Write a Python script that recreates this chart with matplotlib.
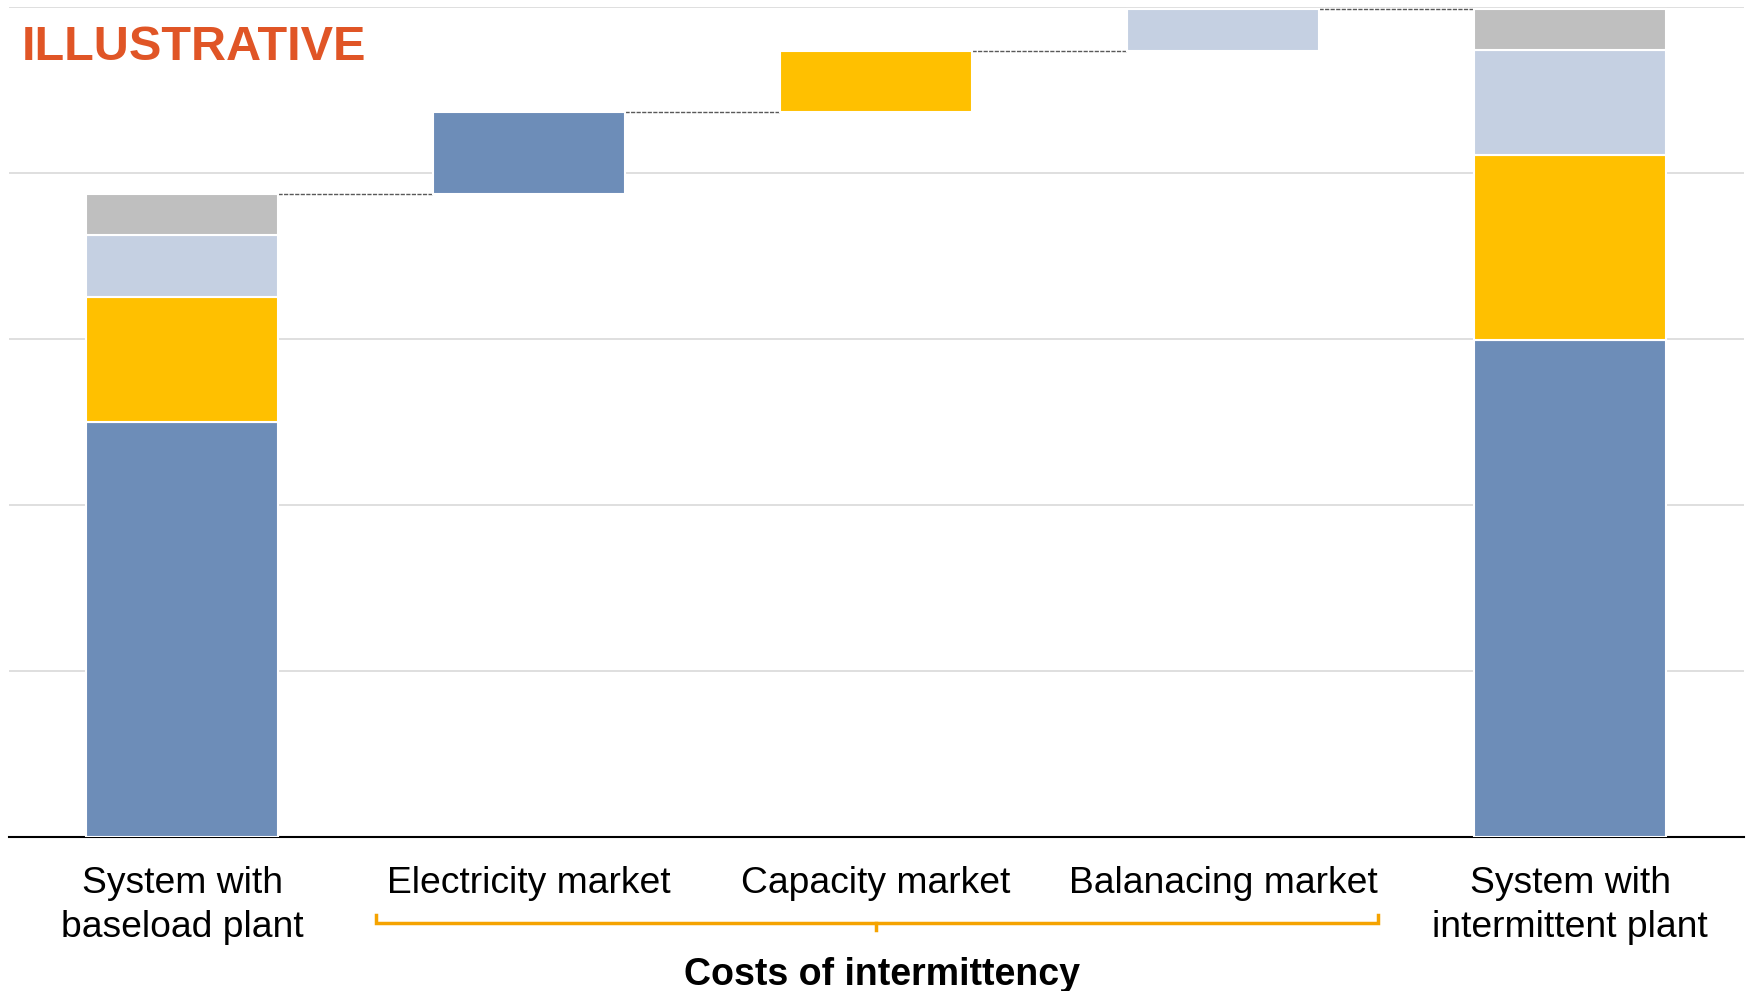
import numpy as np
import matplotlib.pyplot as plt
from matplotlib import transforms

plt.rcParams['font.family'] = ['Liberation Sans', 'DejaVu Sans']

# cost components, bottom to top
components = ["Generation", "Capacity", "Balancing", "Other"]
colors = ["#6D8DB8", "#FFC000", "#C5D0E2", "#BFBFBF"]

labels = ["System with\nbaseload plant", "Electricity market", "Capacity market",
          "Balanacing market", "System with\nintermittent plant"]

baseload = [50, 15, 7.5, 5]
steps = [9.9, 7.3, 5.1]          # electricity, capacity, balancing
intermittent = [59.9, 22.3, 12.6, 5.0]

width = 0.553
fig = plt.figure(figsize=(17.48, 9.91), dpi=100)
ax = fig.add_axes([0.005, 0.1554, 0.9925, 0.8376])

# stacked end bars
for xpos, stack in [(0, baseload), (4, intermittent)]:
    bottom = 0
    for val, col in zip(stack, colors):
        ax.bar(xpos, val, width, bottom=bottom, color=col, edgecolor="white",
               linewidth=1.5, zorder=3)
        bottom += val

# floating step bars
level = sum(baseload)
levels = [level]
for i, val in enumerate(steps):
    ax.bar(i + 1, val, width, bottom=level, color=colors[i], edgecolor="white",
           linewidth=1.5, zorder=3)
    level += val
    levels.append(level)

# dashed connectors between bars
for i, lv in enumerate(levels):
    ax.plot([i + width / 2, i + 1 - width / 2], [lv, lv], ls="--", dashes=(3, 1),
            color="#595959", lw=1.0, zorder=2)

ax.set_xlim(-0.5, 4.5)
ax.set_ylim(0, 100)
ax.set_yticks(np.arange(0, 101, 20))
ax.yaxis.grid(True, color="#D9D9D9", lw=1.2, zorder=0)
ax.set_axisbelow(True)
ax.tick_params(axis="y", left=False, labelleft=False)
for s in ["top", "left", "right"]:
    ax.spines[s].set_visible(False)
ax.spines["bottom"].set_linewidth(1.5)
ax.spines["bottom"].set_color("black")

ax.set_xticks(range(5))
ax.set_xticklabels(labels, fontsize=26.8, linespacing=1.31)
ax.tick_params(axis="x", length=0, pad=21)

# bracket under the three market steps
tr = transforms.blended_transform_factory(ax.transData, fig.transFigure)
bl, br, bmid = 0.558, 3.445, 2.0
ax.plot([bl, bl, br, br], [0.0767, 0.0689, 0.0689, 0.0767], color="#F5A300",
        lw=2.5, transform=tr, clip_on=False, solid_joinstyle="miter")
ax.plot([bmid, bmid], [0.0689, 0.0616], color="#F5A300", lw=2.5,
        transform=tr, clip_on=False)
ax.text(2.016, 0.0165, "Costs of intermittency", transform=tr, ha="center",
        va="center", fontsize=27, fontweight="bold")

fig.text(0.0125, 0.952, "ILLUSTRATIVE", color="#E05526", fontsize=35,
         fontweight="bold", ha="left", va="center")

fig.savefig("out.png", dpi=100, facecolor="white")
